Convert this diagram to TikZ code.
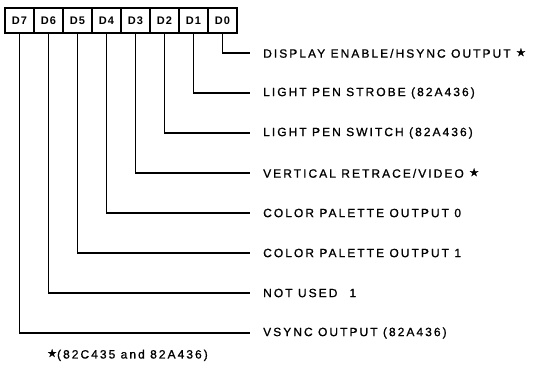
\documentclass[tikz,border=0pt]{standalone}
\usepackage{fontspec}
\setmainfont{Liberation Sans}
\newfontfamily\lbl[LetterSpace=17,FakeBold=1]{Liberation Sans}
\newfontfamily\bitf[LetterSpace=10]{Liberation Sans}
\newfontfamily\symf[FakeBold=1]{DejaVu Sans}
\newcommand{\starmark}{\raisebox{1.5pt}{\symf\fontsize{11}{11}\selectfont ★}}
\begin{document}
\begin{tikzpicture}[x=1pt,y=-1pt,
  bitbox/.style={draw,line width=1.2pt,minimum width=29pt,minimum height=25pt,inner sep=0pt,
    font=\bitf\bfseries\fontsize{11}{11}\selectfont},
  lab/.style={anchor=west,inner sep=0pt,font=\lbl\fontsize{12}{12}\selectfont},
  conn/.style={line width=1.1pt}]
\useasboundingbox (0,0) rectangle (540,370);
\foreach \i in {7,...,0} {
  \node[bitbox] (b\i) at ({19.5+29*(7-\i)},20.5) {\raisebox{-1pt}{D\i}};
}
\foreach \i in {0,...,7} {
  \coordinate (e\i) at (250,{53+40*\i});
}
\node[lab] (t0) at (263,53) {DISPLAY ENABLE/HSYNC OUTPUT \starmark};
\node[lab] (t1) at (263,93) {LIGHT PEN STROBE (82A436)};
\node[lab] (t2) at (263,133) {LIGHT PEN SWITCH (82A436)};
\node[lab] (t3) at (263,173) {VERTICAL RETRACE/VIDEO \starmark};
\node[lab] (t4) at (263,213) {COLOR PALETTE OUTPUT 0};
\node[lab] (t5) at (263,253) {COLOR PALETTE OUTPUT 1};
\node[lab] (t6) at (263,293) {NOT USED\hspace{12pt}1};
\node[lab] (t7) at (263,333) {VSYNC OUTPUT (82A436)};
\foreach \i in {0,...,7} {
  \draw[conn] (b\i.south) |- (e\i);
}
\node[lab] (foot) at (47,355) {\starmark(82C435 and 82A436)};
\end{tikzpicture}
\end{document}
